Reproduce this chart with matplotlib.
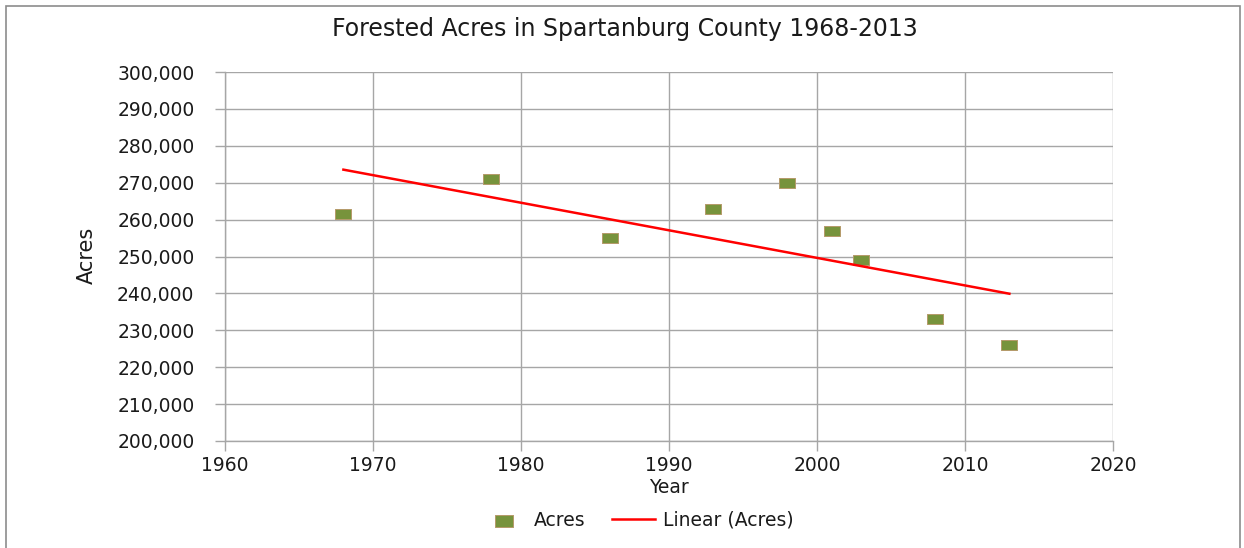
import numpy as np
import matplotlib.pyplot as plt
from matplotlib.ticker import FuncFormatter
from matplotlib.patches import Rectangle
from matplotlib.path import Path

# Survey years and forested acreage
years = [1968, 1978, 1986, 1993, 1998, 2001, 2003, 2008, 2013]
acres = [261500, 271000, 255000, 263000, 270000, 257000, 249000, 233000, 226000]

title = "Forested Acres in Spartanburg County 1968-2013"
x_ticks = [1960, 1970, 1980, 1990, 2000, 2010, 2020]
y_ticks = list(range(200000, 300001, 10000))

W, H, DPI = 1244, 548, 100
fig = plt.figure(figsize=(W / DPI, H / DPI), dpi=DPI)
fig.patch.set_facecolor("white")

# Chart frame
fig.add_artist(Rectangle((6 / W, -0.01), (1240 - 6) / W, 1 - 6 / H + 0.01,
                         transform=fig.transFigure, fill=False,
                         edgecolor="#8c8c8c", linewidth=1.2))

left, right, top, bottom = 225, 1113, 72, 441
ax = fig.add_axes([left / W, 1 - bottom / H, (right - left) / W, (bottom - top) / H])

grid_col = "#a6a6a6"
ax.set_xlim(1960, 2020)
ax.set_ylim(200000, 300000)
ax.set_xticks(x_ticks)
ax.set_yticks(y_ticks)
ax.yaxis.set_major_formatter(FuncFormatter(lambda v, p: f"{int(v):,}"))
ax.grid(True, color=grid_col, linewidth=1.0)
ax.set_axisbelow(True)
for s in ["top", "right"]:
    ax.spines[s].set_visible(False)
for s in ["left", "bottom"]:
    ax.spines[s].set_color(grid_col)
    ax.spines[s].set_linewidth(1.0)
ax.tick_params(axis="both", colors=grid_col, length=7, width=1.0,
               labelcolor="#1a1a1a", labelsize=13.5)
ax.tick_params(axis="y", pad=15)
ax.tick_params(axis="x", pad=4)

# Data points drawn as small flat rectangles
rect = Path([(-0.75, -0.5), (0.75, -0.5), (0.75, 0.5), (-0.75, 0.5), (-0.75, -0.5)],
            [Path.MOVETO, Path.LINETO, Path.LINETO, Path.LINETO, Path.CLOSEPOLY])
ax.scatter(years, acres, marker=rect, s=125, color="#77933c",
           edgecolors="#b59a6a", linewidths=0.7, zorder=3,
           label="Acres", clip_on=False)

# Least-squares trend line
slope, intercept = np.polyfit(years, acres, 1)
xs = np.array([years[0], years[-1]])
ax.plot(xs, slope * xs + intercept, color="#ff0000", linewidth=1.8,
        zorder=4, label="Linear (Acres)")

fig.text(625 / W, 1 - 29 / H, title, ha="center", va="center",
         fontsize=17, color="#1a1a1a")
ax.set_xlabel("Year", fontsize=13.5, color="#1a1a1a", labelpad=2)
fig.text(87 / W, 1 - 255 / H, "Acres", rotation=90, ha="center", va="center",
         fontsize=15, color="#1a1a1a",
         family=["Liberation Sans Narrow", "DejaVu Sans"])

leg = fig.legend(loc="center", bbox_to_anchor=(638 / W, 1 - 520 / H), ncol=2,
                 frameon=False, fontsize=13.5, handlelength=2.3,
                 columnspacing=1.4, handletextpad=0.45, markerscale=1.1)
for t in leg.get_texts():
    t.set_color("#1a1a1a")

fig.savefig("out.png", dpi=DPI, facecolor="white")
